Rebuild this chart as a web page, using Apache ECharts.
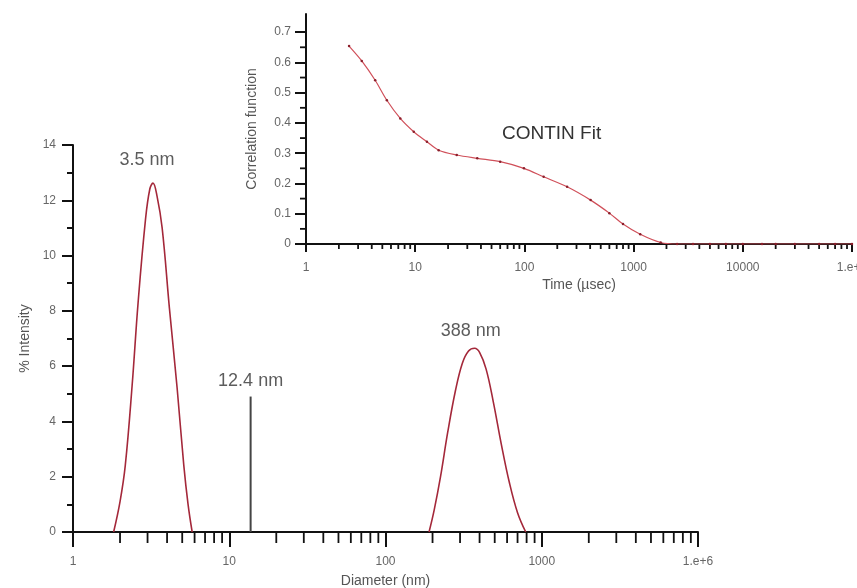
<!DOCTYPE html>
<html>
<head>
<meta charset="utf-8">
<script src="https://cdn.jsdelivr.net/npm/echarts@6/dist/echarts.min.js"></script>
<style>
  html, body { margin: 0; padding: 0; background: #fff; }
  #chart { width: 857px; height: 588px; }
</style>
</head>
<body>
<div id="chart"></div>
<script>
// size distribution: [diameter (nm), % intensity]
const peakSmall = [
  [1.82, 0], [2.0, 1.1], [2.16, 2.4], [2.39, 5.3], [2.61, 8.3], [2.91, 11.3],
  [3.1, 12.4], [3.25, 12.62], [3.45, 12.15], [3.72, 11.0], [4.14, 8.1],
  [4.64, 5.2], [5.12, 2.4], [5.45, 1.0], [5.79, 0]
]
const spike = [[13.7, 0], [13.7, 4.9]]
const peakLarge = [
  [190, 0], [205, 0.8], [225, 2.0], [250, 3.6], [280, 5.1], [310, 6.1],
  [340, 6.55], [372, 6.65], [400, 6.5], [440, 5.9], [490, 4.7], [550, 3.2],
  [620, 1.8], [700, 0.7], [790, 0]
]
const peakNames = ['3.5 nm', '12.4 nm', '388 nm']
const diameterLabels = { 1: '1', 10: '10', 100: '100', 1000: '1000', 10000: '1.e+6' }

// inset: [time (usec), correlation]
const correlation = [
  [2.48, 0.654], [3.24, 0.605], [4.3, 0.541], [5.5, 0.475], [7.3, 0.415],
  [9.7, 0.371], [12.8, 0.338], [16.4, 0.31], [24, 0.294], [37, 0.283],
  [60, 0.272], [99, 0.25], [150, 0.222], [246, 0.189], [404, 0.145],
  [600, 0.102], [800, 0.066], [1150, 0.032], [1770, 0.005], [2500, 0],
  [3500, 0], [5000, 0], [7000, 0], [10000, 0], [15000, 0], [20000, 0],
  [30000, 0], [50000, 0], [70000, 0], [100000, 0]
]
const timeLabels = { 1: '1', 10: '10', 100: '100', 1000: '1000', 10000: '10000', 100000: '1.e+6' }
const corrTicks = [0, 0.1, 0.2, 0.3, 0.4, 0.5, 0.6, 0.7]

const FONT = 'Liberation Sans, Arial, sans-serif'

function logMinors(lo, hi) {
  const out = []
  for (let e = lo; e < hi; e++) {
    for (let m = 2; m <= 9; m++) out.push(m * Math.pow(10, e))
  }
  return out
}

// short tick marks drawn through the axes' own coordinate system
function tickSeries(xi, yi, pts, dx, dy) {
  return {
    type: 'custom', xAxisIndex: xi, yAxisIndex: yi, silent: true, clip: false, z: 3,
    data: pts,
    renderItem: (params, api) => {
      const p = api.coord([api.value(0), api.value(1)])
      return {
        type: 'line',
        shape: { x1: p[0], y1: p[1], x2: p[0] + dx, y2: p[1] + dy },
        style: { stroke: '#111', lineWidth: 1.8 }
      }
    }
  }
}

function peakOf(arr) {
  return arr.reduce((a, b) => (b[1] > a[1] ? b : a))
}

const axisLine = { lineStyle: { color: '#111', width: 2 } }
const tickLabel = { color: '#666', fontSize: 12, fontFamily: FONT }
const nameStyle = { color: '#555', fontSize: 14, fontFamily: FONT }

const labelOffsets = [[-6, 0], [0, 0], [-4, 0]]
const labelDistances = [14, 6, 8]
const labelData = [peakSmall, spike, peakLarge].map((s, i) => ({
  name: peakNames[i],
  value: peakOf(s),
  label: { offset: labelOffsets[i], distance: labelDistances[i] }
}))

const chart = echarts.init(document.getElementById('chart'))
chart.setOption({
  animation: false,
  title: {
    text: 'CONTIN Fit', left: 497, top: 119,
    textStyle: { color: '#333', fontSize: 19, fontWeight: 'normal', fontFamily: FONT }
  },
  grid: [
    { left: 73, top: 145, right: 159, bottom: 56, outerBoundsMode: 'none' },
    { left: 306, top: 14, right: 5, bottom: 344, outerBoundsMode: 'none' }
  ],
  xAxis: [
    {
      type: 'log', gridIndex: 0, min: 1, max: 10000, logBase: 10,
      name: 'Diameter (nm)', nameLocation: 'middle', nameGap: 42, nameTextStyle: nameStyle,
      axisLine, axisTick: { length: 15, lineStyle: { width: 2, color: '#111' } },
      axisLabel: { ...tickLabel, margin: 24, formatter: v => diameterLabels[v] || '' },
      splitLine: { show: false }
    },
    {
      type: 'log', gridIndex: 1, min: 1, max: 100000, logBase: 10,
      name: 'Time (µsec)', nameLocation: 'middle', nameGap: 34, nameTextStyle: nameStyle,
      axisLine, axisTick: { length: 8, lineStyle: { width: 2, color: '#111' } },
      axisLabel: { ...tickLabel, margin: 18, formatter: v => timeLabels[v] || '' },
      splitLine: { show: false }
    }
  ],
  yAxis: [
    {
      type: 'value', gridIndex: 0, min: 0, max: 14, interval: 2,
      name: '% Intensity', nameLocation: 'middle', nameGap: 40, nameTextStyle: nameStyle,
      axisLine, axisTick: { length: 11, lineStyle: { width: 2, color: '#111' } },
      minorTick: { show: true, splitNumber: 2, length: 6, lineStyle: { width: 2, color: '#111' } },
      axisLabel: { ...tickLabel, margin: 17 },
      splitLine: { show: false }
    },
    {
      type: 'value', gridIndex: 1, min: 0, max: 0.76,
      name: 'Correlation function', nameLocation: 'middle', nameGap: 47, nameTextStyle: nameStyle,
      axisLine,
      axisTick: { length: 11, customValues: corrTicks, lineStyle: { width: 2, color: '#111' } },
      axisLabel: { ...tickLabel, margin: 15, customValues: corrTicks, formatter: v => (v === 0 ? '0' : String(v)) },
      splitLine: { show: false }
    }
  ],
  series: [
    {
      type: 'line', xAxisIndex: 0, yAxisIndex: 0, data: peakSmall,
      smooth: 0.4, showSymbol: false,
      lineStyle: { color: '#a4283a', width: 1.6 }
    },
    {
      type: 'line', xAxisIndex: 0, yAxisIndex: 0, data: peakLarge,
      smooth: 0.4, showSymbol: false,
      lineStyle: { color: '#a4283a', width: 1.6 }
    },
    {
      type: 'line', xAxisIndex: 0, yAxisIndex: 0, data: spike, showSymbol: false,
      lineStyle: { color: '#444', width: 2 }
    },
    {
      type: 'scatter', xAxisIndex: 0, yAxisIndex: 0, data: labelData,
      symbolSize: 1, itemStyle: { color: 'transparent' }, silent: true,
      label: {
        show: true, position: 'top', formatter: '{b}',
        color: '#333', fontSize: 18, fontFamily: FONT
      }
    },
    {
      type: 'line', xAxisIndex: 1, yAxisIndex: 1, data: correlation,
      smooth: 0.3, symbol: 'circle', symbolSize: 2.5, showSymbol: true,
      itemStyle: { color: '#8b1f2b' },
      lineStyle: { color: '#d0505a', width: 1.2 }
    },
    tickSeries(0, 0, logMinors(0, 4).map(v => [v, 0]), 0, 11),
    tickSeries(1, 1, logMinors(0, 5).map(v => [v, 0]), 0, 5),
    tickSeries(1, 1, [0.05, 0.15, 0.25, 0.35, 0.45, 0.55, 0.65].map(v => [1, v]), -6, 0)
  ]
})
</script>
</body>
</html>
